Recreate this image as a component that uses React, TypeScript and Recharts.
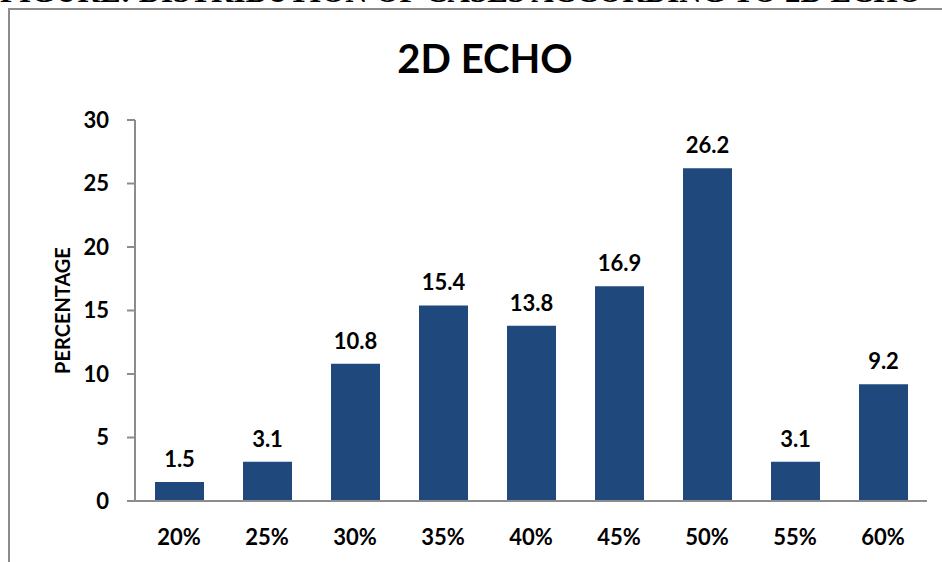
import { BarChart, Bar, XAxis, YAxis, LabelList } from "recharts";

const categories = ["20%", "25%", "30%", "35%", "40%", "45%", "50%", "55%", "60%"];
const percentages = [1.5, 3.1, 10.8, 15.4, 13.8, 16.9, 26.2, 3.1, 9.2];
const yTicks = [0, 5, 10, 15, 20, 25, 30];

const data = categories.map((name, i) => ({ name, value: percentages[i] }));

const FONT = "Lato, 'Open Sans', sans-serif";
const AXIS_GRAY = "#8c8c8c";

function YLabel(props: any) {
  const vb = props.viewBox || { x: 0, y: 0, width: 0, height: 0 };
  const cx = vb.x + 62;
  const cy = vb.y + vb.height / 2;
  return (
    <text
      x={cx}
      y={cy}
      transform={`rotate(-90, ${cx}, ${cy})`}
      textAnchor="middle"
      dominantBaseline="central"
      fontFamily={FONT}
      fontWeight={700}
      fontSize={20}
      fill="#000"
    >
      PERCENTAGE
    </text>
  );
}

export default function App() {
  return (
    <div
      style={{
        position: "fixed",
        top: 0,
        left: 0,
        width: 942,
        height: 562,
        overflow: "hidden",
        background: "#fff",
      }}
    >
      {/* page heading, cut by the top edge as in the scan */}
      <div
        style={{
          position: "absolute",
          top: -24,
          left: 0,
          width: 1200,
          whiteSpace: "nowrap",
          fontFamily: "'Liberation Serif', serif",
          fontWeight: 700,
          fontSize: 31,
          lineHeight: "31px",
        }}
      >
        FIGURE: DISTRIBUTION OF CASES ACCORDING TO 2D ECHO
      </div>
      {/* chart frame */}
      <div
        style={{
          position: "absolute",
          top: 8,
          left: 8,
          width: 960,
          height: 600,
          borderTop: `2px solid ${AXIS_GRAY}`,
          borderLeft: `2px solid ${AXIS_GRAY}`,
        }}
      />
      <div
        style={{
          position: "absolute",
          top: 34,
          left: 0,
          width: 942,
          paddingLeft: 14,
          textAlign: "center",
          fontFamily: FONT,
          fontWeight: 700,
          fontSize: 40,
          lineHeight: "48px",
          color: "#000",
        }}
      >
        2D ECHO
      </div>
      <div style={{ position: "absolute", top: 0, left: 0 }}>
        <BarChart
          width={942}
          height={562}
          data={data}
          margin={{ top: 120, right: 15, bottom: 0, left: 0 }}
          barSize={49}
        >
          <XAxis
            dataKey="name"
            axisLine={{ stroke: AXIS_GRAY, strokeWidth: 2 }}
            tickLine={false}
            tickSize={0}
            tickMargin={28}
            height={61}
            tick={{ fontFamily: FONT, fontWeight: 700, fontSize: 22, fill: "#000" }}
          />
          <YAxis
            domain={[0, 30]}
            ticks={yTicks}
            width={135}
            axisLine={{ stroke: AXIS_GRAY, strokeWidth: 2 }}
            tickLine={{ stroke: AXIS_GRAY, strokeWidth: 2 }}
            tickSize={8}
            tickMargin={18}
            tick={{ fontFamily: FONT, fontWeight: 700, fontSize: 22, fill: "#000" }}
            label={<YLabel />}
          />
          <Bar dataKey="value" fill="#1F497D" isAnimationActive={false}>
            <LabelList
              dataKey="value"
              position="top"
              offset={15}
              style={{ fontFamily: FONT, fontWeight: 700, fontSize: 22, fill: "#000" }}
              formatter={(v: any) => Number(v).toFixed(1)}
            />
          </Bar>
        </BarChart>
      </div>
    </div>
  );
}
